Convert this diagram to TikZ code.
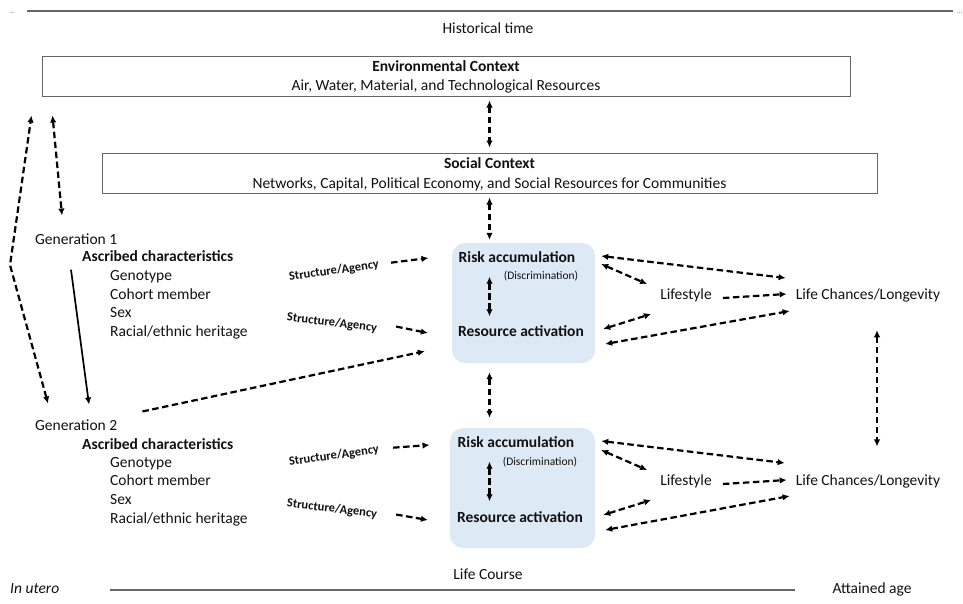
\documentclass[tikz,border=0pt]{standalone}
\usepackage{fontspec}
\setmainfont{Carlito}
\usetikzlibrary{arrows.meta,calc}
\definecolor{boxblue}{HTML}{DDEAF6}
\definecolor{txtcol}{HTML}{111111}
\definecolor{linegray}{HTML}{666666}
\begin{document}
\begin{tikzpicture}[x=1pt,y=-1pt,
  txt/.style={inner sep=0pt,text=txtcol,font=\fontsize{15.5}{18}\selectfont},
  btxt/.style={inner sep=0pt,text=txtcol,font=\fontsize{15.5}{18}\selectfont\bfseries},
  smalltxt/.style={inner sep=0pt,text=txtcol,font=\fontsize{11.5}{13}\selectfont},
  satxt/.style={inner sep=0pt,text=txtcol,font=\fontsize{12.5}{14}\selectfont\bfseries},
  ctxbox/.style={draw=linegray,line width=1pt,inner sep=0pt,align=center,text=txtcol,
    font=\fontsize{15.5}{19.5}\selectfont,minimum height=40pt},
  bluebox/.style={fill=boxblue,rounded corners=13pt,inner sep=0pt,minimum height=120pt},
  tline/.style={draw=linegray,line width=1.2pt},
  dar/.style={line width=2.2pt,dash pattern=on 6.5pt off 3.5pt,-{Latex[length=7pt,width=6.5pt]}},
  ddar/.style={line width=2.2pt,dash pattern=on 6.5pt off 3.5pt,{Latex[length=7pt,width=6.5pt]}-{Latex[length=7pt,width=6.5pt]}},
  sar/.style={line width=1.7pt,-{Latex[length=7pt,width=6.5pt]}}
]
\useasboundingbox (0,0) rectangle (963,603);

% time lines
\coordinate (tl1) at (27,11);
\coordinate (tl2) at (953,11);
\draw[tline] (tl1) -- (tl2);
\node[inner sep=0pt,text=linegray,font=\fontsize{7}{8}\selectfont] (dotsl) at (12,13) {...};
\node[inner sep=0pt,text=linegray,font=\fontsize{7}{8}\selectfont,anchor=west] (dotsr) at (957,13) {...};
\node[txt] (hist) at (488,28) {Historical time};

\coordinate (bl1) at (110,590);
\coordinate (bl2) at (795,590);
\draw[tline] (bl1) -- (bl2);
\node[txt,anchor=mid] (lifecourse) at (488,577) {Life Course};
\node[txt,anchor=mid west,font=\fontsize{15.5}{18}\selectfont\itshape] (utero) at (10,591) {In utero};
\node[txt,anchor=mid] (attained) at (872,591) {Attained age};

% context boxes
\node[ctxbox,minimum width=808pt] (env) at (446,76)
  {\rule{0pt}{13pt}\textbf{Environmental Context}\\Air, Water, Material, and Technological Resources};
\node[ctxbox,minimum width=775pt] (soc) at (489.5,173)
  {\rule{0pt}{13pt}\textbf{Social Context}\\Networks, Capital, Political Economy, and Social Resources for Communities};

% blue boxes
\node[bluebox,minimum width=143pt] (box1) at (523.5,303) {};
\node[bluebox,minimum width=145pt] (box2) at (522.5,488) {};

\node[btxt,anchor=mid] (risk1) at (517,260) {Risk accumulation};
\node[smalltxt,anchor=mid] (disc1) at (541,277) {(Discrimination)};
\node[btxt,anchor=mid] (res1) at (521,334) {Resource activation};

\node[btxt,anchor=mid] (risk2) at (516,445) {Risk accumulation};
\node[smalltxt,anchor=mid] (disc2) at (540,463) {(Discrimination)};
\node[btxt,anchor=mid] (res2) at (520,520) {Resource activation};

% outcomes
\node[txt,anchor=mid] (ls1) at (686,297) {Lifestyle};
\node[txt,anchor=mid] (lc1) at (868,297) {Life Chances/Longevity};
\node[txt,anchor=mid] (ls2) at (686,483) {Lifestyle};
\node[txt,anchor=mid] (lc2) at (868,483) {Life Chances/Longevity};

% generation 1
\node[txt,anchor=mid west] (gen1) at (35,242) {Generation 1};
\node[btxt,anchor=mid west] (asc1) at (82,259) {Ascribed characteristics};
\node[txt,anchor=mid west] (g1a) at (110,278) {Genotype};
\node[txt,anchor=mid west] (g1b) at (110,297) {Cohort member};
\node[txt,anchor=mid west] (g1c) at (110,315) {Sex};
\node[txt,anchor=mid west] (g1d) at (110,334) {Racial/ethnic heritage};
\node[satxt,rotate=8] (sa1) at (334,271) {Structure/Agency};
\node[satxt,rotate=-7] (sa2) at (332,323) {Structure/Agency};

% generation 2
\node[txt,anchor=mid west] (gen2) at (35,428) {Generation 2};
\node[btxt,anchor=mid west] (asc2) at (82,447) {Ascribed characteristics};
\node[txt,anchor=mid west] (g2a) at (110,465) {Genotype};
\node[txt,anchor=mid west] (g2b) at (110,483) {Cohort member};
\node[txt,anchor=mid west] (g2c) at (110,502) {Sex};
\node[txt,anchor=mid west] (g2d) at (110,521) {Racial/ethnic heritage};
\node[satxt,rotate=8] (sa3) at (334,456) {Structure/Agency};
\node[satxt,rotate=-7] (sa4) at (332,509) {Structure/Agency};

% vertical connectors in the centre
\draw[ddar,shorten <=4pt,shorten >=5pt] (env.south -| soc.north) -- (soc.north);
\draw[ddar,shorten <=4pt,shorten >=3pt] (soc.south) -- (soc.south |- box1.north);
\draw[ddar,shorten <=9pt,shorten >=10pt] (box1.south -| soc.south) -- (box2.north -| soc.south);
\draw[ddar,shorten <=14pt,shorten >=9pt] (risk1.south -| soc.south) -- (res1.north -| soc.south);
\draw[ddar,shorten <=14pt,shorten >=10pt] (risk2.south -| soc.south) -- (res2.north -| soc.south);
\draw[ddar,shorten <=28pt,shorten >=28pt] ([xshift=9pt]lc1.south) -- ([xshift=9pt]lc2.north);

% box 1 to outcomes
\draw[ddar] ([shift={(6,-47)}]box1.east) -- ([shift={(-10,-19)}]lc1.mid west);
\draw[ddar] ([shift={(6,-39)}]box1.east) -- ([shift={(-13,-13)}]ls1.mid west);
\draw[dar] ([shift={(11,1)}]ls1.mid east) -- ([shift={(-9,-3)}]lc1.mid west);
\draw[ddar] ([shift={(8,26)}]box1.east) -- ([shift={(-9,17)}]ls1.mid west);
\draw[ddar] ([shift={(10,41)}]box1.east) -- ([shift={(-6,14)}]lc1.mid west);

% box 2 to outcomes
\draw[ddar] ([shift={(6,-47)}]box2.east) -- ([shift={(-11,-20)}]lc2.mid west);
\draw[ddar] ([shift={(6,-38)}]box2.east) -- ([shift={(-13,-13)}]ls2.mid west);
\draw[dar] ([shift={(11,1)}]ls2.mid east) -- ([shift={(-9,-3)}]lc2.mid west);
\draw[ddar] ([shift={(8,27)}]box2.east) -- ([shift={(-9,17)}]ls2.mid west);
\draw[ddar] ([shift={(10,42)}]box2.east) -- ([shift={(-6,13)}]lc2.mid west);

% structure/agency arrows
\draw[dar] ([shift={(12,-2)}]sa1.east) -- ([shift={(-30,-2)}]risk1.mid west);
\draw[dar] ([shift={(19,-2)}]sa2.east) -- ([shift={(-30,-1)}]res1.mid west);
\draw[dar] ([shift={(14,-2)}]sa3.east) -- ([shift={(-28,0)}]risk2.mid west);
\draw[dar] ([shift={(19,0)}]sa4.east) -- ([shift={(-29,0)}]res2.mid west);

% left side
\coordinate (kink) at (10,265);
\draw[ddar] ([shift={(13,-16)}]gen2.north west) -- (kink) -- ([shift={(-10,19)}]env.south west);
\draw[ddar] ([shift={(11,19)}]env.south west) -- ([shift={(27,-18)}]gen1.north west);
\draw[sar] ([shift={(-11,8)}]asc1.south west) -- ([shift={(54,-15)}]gen2.north west);
\draw[dar] ([shift={(25,-8)}]gen2.north east) -- ([shift={(-27,-12)}]box1.south west);
\end{tikzpicture}
\end{document}
